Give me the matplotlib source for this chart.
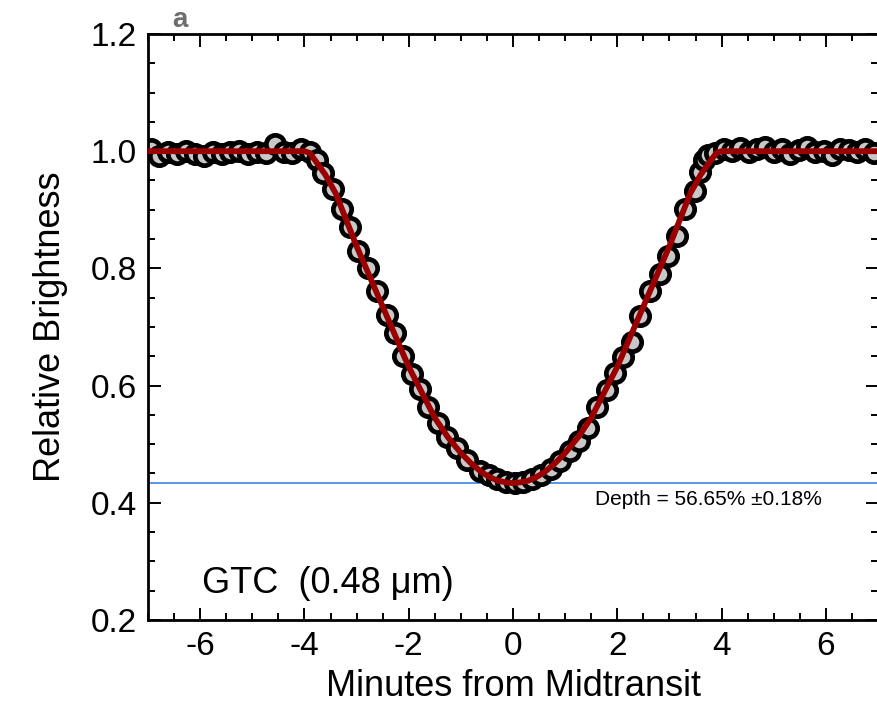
import matplotlib
matplotlib.use("Agg")
import matplotlib.pyplot as plt
from matplotlib.ticker import MultipleLocator

plt.rcParams['font.family'] = ['Liberation Sans', 'DejaVu Sans']

# ---- data ----
time_pre = [-6.95, -6.78, -6.61, -6.44, -6.27, -6.10, -5.93, -5.76, -5.59,
            -5.42, -5.25, -5.08, -4.91, -4.74, -4.57, -4.40, -4.23, -4.06, -3.90]
flux_pre = [1.003, 0.992, 0.998, 0.995, 1.000, 0.996, 0.992, 0.999, 0.995,
            0.999, 1.001, 0.996, 0.999, 0.997, 1.013, 0.999, 0.997, 1.004, 0.998]

time_ingress = [-3.76, -3.64, -3.45, -3.28, -3.12, -2.97, -2.78, -2.61, -2.42,
                -2.26, -2.11, -1.94, -1.78, -1.63, -1.44, -1.27, -1.07, -0.88,
                -0.63, -0.46, -0.30, -0.13]
flux_ingress = [0.985, 0.962, 0.935, 0.901, 0.870, 0.830, 0.800, 0.761, 0.721,
                0.690, 0.650, 0.619, 0.595, 0.564, 0.537, 0.513, 0.494, 0.473,
                0.455, 0.447, 0.440, 0.436]

time_egress = [0.03, 0.20, 0.36, 0.53, 0.72, 0.90, 1.10, 1.27, 1.43, 1.61,
               1.80, 1.96, 2.11, 2.28, 2.43, 2.63, 2.82, 2.97, 3.14, 3.30,
               3.49, 3.58, 3.66]
flux_egress = [0.433, 0.436, 0.440, 0.448, 0.458, 0.471, 0.488, 0.506, 0.528, 0.564,
               0.593, 0.622, 0.648, 0.675, 0.718, 0.761, 0.790, 0.821, 0.855, 0.901,
               0.932, 0.965, 0.985]

time_post = [3.74, 3.88, 4.04, 4.20, 4.36, 4.52, 4.68, 4.84, 5.00, 5.16, 5.32,
             5.48, 5.64, 5.80, 5.96, 6.12, 6.28, 6.44, 6.60, 6.76, 6.92]
flux_post = [0.993, 0.997, 1.003, 1.000, 1.005, 0.998, 1.004, 1.008, 0.999, 1.003,
             0.995, 1.002, 1.007, 0.998, 1.001, 0.994, 1.004, 1.002, 0.998, 1.003, 0.997]

# transit model (knots)
model_time = [-7.0, -4.0, -3.9, -3.8, -3.6, -3.4, -3.0, -2.5, -2.0, -1.5, -1.25,
              -1.0, -0.8, -0.6, -0.45, -0.3, -0.15, 0.0,
              0.15, 0.3, 0.45, 0.6, 0.8, 1.0, 1.25, 1.5, 2.0, 2.5, 3.0, 3.4,
              3.6, 3.8, 3.9, 4.0, 7.0]
model_flux = [1.0, 1.0, 0.997, 0.985, 0.960, 0.928, 0.838, 0.735, 0.632, 0.545, 0.512,
              0.485, 0.467, 0.452, 0.444, 0.438, 0.435, 0.4335,
              0.435, 0.438, 0.444, 0.452, 0.467, 0.485, 0.512, 0.545, 0.632, 0.735,
              0.838, 0.928, 0.960, 0.985, 0.997, 1.0, 1.0]

depth_level = 0.4335
label_text = "GTC  (0.48 \u03bcm)"
depth_text = "Depth = 56.65% \u00b10.18%"
panel_letter = "a"

xticks = [-6, -4, -2, 0, 2, 4, 6]
yticks = [0.2, 0.4, 0.6, 0.8, 1.0, 1.2]

# ---- figure ----
fig = plt.figure(figsize=(8.77, 7.10), dpi=100)
ax = fig.add_axes([148/877, 1 - 620/710, (878 - 148)/877, (620 - 34)/710])

times = time_pre + time_ingress + time_egress + time_post
fluxes = flux_pre + flux_ingress + flux_egress + flux_post

ax.axhline(depth_level, color='#4a90e2', lw=1.3, zorder=1)
ax.plot(times, fluxes, 'o', ms=13.2, mfc='#c8c8c8', mec='black', mew=3.4, zorder=2)
ax.plot(model_time, model_flux, color='#9b0000', lw=4.2, zorder=3,
        solid_joinstyle='round', solid_capstyle='butt')

ax.set_xlim(-7, 7)
ax.set_ylim(0.2, 1.2)
ax.set_xticks(xticks)
ax.set_xticklabels([str(t) for t in xticks])
ax.set_yticks(yticks)
ax.set_yticklabels([f"{t:.1f}" for t in yticks])
ax.xaxis.set_minor_locator(MultipleLocator(0.5))
ax.yaxis.set_minor_locator(MultipleLocator(0.05))

ax.tick_params(which='both', direction='in', top=True, right=True, width=1.4,
               colors='black', labelsize=24, pad=8)
ax.tick_params(which='major', length=9)
ax.tick_params(which='minor', length=5)
for s in ax.spines.values():
    s.set_linewidth(2.0)

ax.set_xlabel("Minutes from Midtransit", fontsize=26, labelpad=5)
ax.set_ylabel("Relative Brightness", fontsize=26, labelpad=16)

ax.text(-5.96, 0.246, label_text, fontsize=26, ha='left', va='baseline')
ax.text(1.57, 0.397, depth_text, fontsize=15, ha='left', va='baseline')

fig.text(172/877, 1 - 27/710, panel_letter, fontsize=20, fontweight='bold',
         color='#6e6e6e', ha='left', va='baseline')

fig.savefig("out.png", dpi=100)
